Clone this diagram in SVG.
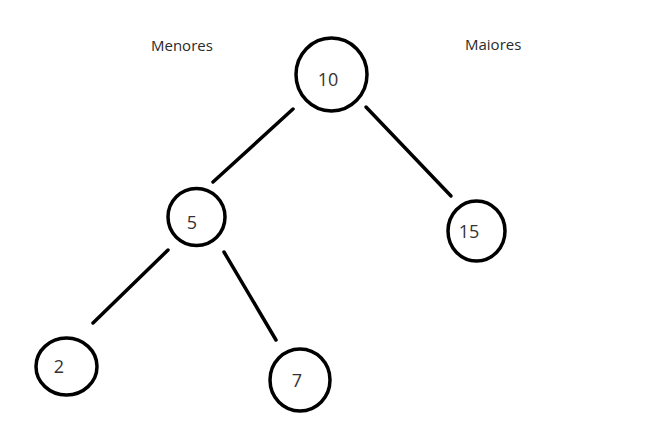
<svg xmlns="http://www.w3.org/2000/svg" width="658" height="437" viewBox="0 0 658 437">
  <style>
    .node { fill: #ffffff; stroke: #000000; stroke-width: 3.5; }
    .num { font-family: "Open Sans", "Noto Sans", sans-serif; font-size: 18px; fill: #333333; text-anchor: middle; }
    .lbl { font-family: "Open Sans", "Noto Sans", sans-serif; font-size: 15px; fill: #2a2a2a; }
    .edge { stroke: #000000; stroke-width: 3.5; stroke-linecap: round; fill: none; }
  </style>
  <rect width="658" height="437" fill="#ffffff"/>
  <text class="lbl" x="151" y="51">Menores</text>
  <text class="lbl" x="465" y="50">Maiores</text>
  <g id="connectors">
    <line class="edge" x1="293" y1="109" x2="213" y2="182"/>
    <line class="edge" x1="366" y1="107" x2="451" y2="196"/>
    <line class="edge" x1="168" y1="250" x2="93" y2="323"/>
    <line class="edge" x1="224" y1="252" x2="276" y2="340"/>
  </g>
  <g id="node-10">
    <ellipse class="node" cx="331.5" cy="74.5" rx="35.5" ry="36.5"/>
    <text class="num" x="328" y="86">10</text>
  </g>
  <g id="node-5">
    <ellipse class="node" cx="196.5" cy="217" rx="28.5" ry="28.5"/>
    <text class="num" x="192" y="229">5</text>
  </g>
  <g id="node-15">
    <ellipse class="node" cx="476.5" cy="231" rx="28.5" ry="30"/>
    <text class="num" x="469" y="238">15</text>
  </g>
  <g id="node-2">
    <ellipse class="node" cx="66.5" cy="366.5" rx="30.5" ry="28.5"/>
    <text class="num" x="59" y="373">2</text>
  </g>
  <g id="node-7">
    <ellipse class="node" cx="300" cy="380" rx="30" ry="31"/>
    <text class="num" x="297" y="387">7</text>
  </g>
</svg>
